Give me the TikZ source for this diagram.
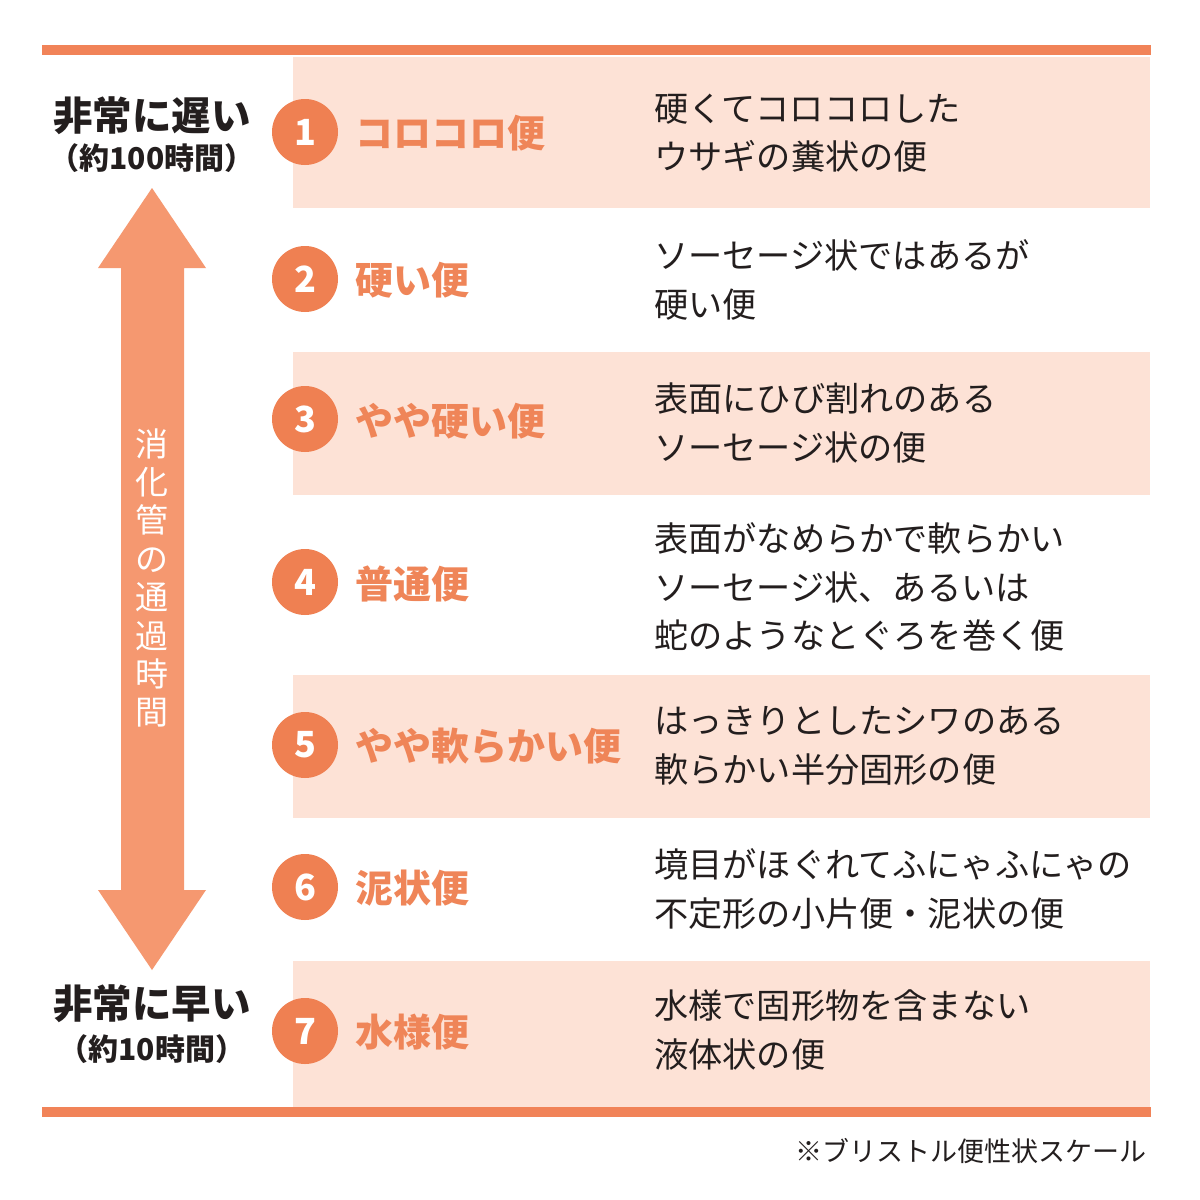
\documentclass[tikz,border=0pt]{standalone}
\usepackage{fontspec}
\setmainfont{Noto Sans CJK JP}
\definecolor{lineor}{RGB}{241,131,88}
\definecolor{bandor}{RGB}{253,226,214}
\definecolor{arrowor}{RGB}{245,152,112}
\definecolor{circor}{RGB}{239,128,82}
\definecolor{labor}{RGB}{239,133,88}
\definecolor{txt}{RGB}{35,30,30}
\tikzset{
  band/.style={fill=bandor},
  rule/.style={fill=lineor},
  numcirc/.style={circle,fill=circor,minimum size=66pt,inner sep=0pt,text=white,font=\fontsize{36}{40}\selectfont\bfseries},
  typelab/.style={anchor=west,inner sep=0pt,text=labor,font=\fontsize{38}{44}\selectfont\bfseries},
  desc/.style={anchor=west,inner sep=0pt,align=left,text=txt,font=\fontsize{34.2}{48.5}\selectfont},
  speed/.style={inner sep=0pt,text=txt,font=\fontsize{39.5}{44}\selectfont\bfseries},
  hours/.style={inner sep=0pt,text=txt,font=\fontsize{30}{34}\selectfont\bfseries},
}
\begin{document}
\begin{tikzpicture}[x=1pt,y=-1pt]
\useasboundingbox (0,0) rectangle (1200,1200);
\fill[white] (0,0) rectangle (1200,1200);
% shaded bands
\fill[band] (293,57) rectangle (1150,208);
\fill[band] (293,352) rectangle (1150,495);
\fill[band] (293,675) rectangle (1150,818);
\fill[band] (293,961) rectangle (1150,1107);
% rules
\fill[rule] (42,45) rectangle (1151,55);
\fill[rule] (42,1107) rectangle (1151,1117);
% double arrow
\fill[arrowor] (152,188) -- (206,268) -- (184,268) -- (184,890) -- (206,890)
  -- (152,970) -- (98,890) -- (121,890) -- (121,268) -- (98,268) -- cycle;
\node[inner sep=0pt,align=center,text=white,font=\fontsize{33}{38.4}\selectfont] (vt) at (152,578)
  {消\\化\\管\\の\\通\\過\\時\\間};
% left labels
\node[speed] (slow) at (152,116) {非常に遅い};
\node[hours] (slowh) at (152,158) {（約100時間）};
\node[speed] (fast) at (152,1004) {非常に早い};
\node[hours] (fasth) at (152,1049) {（約10時間）};
% rows
\node[numcirc] (c1) at (305,132) {1};
\node[typelab] (l1) at (355,133) {コロコロ便};
\node[desc] (d1) at (654,133) {硬くてコロコロした\\ウサギの糞状の便};
\node[numcirc] (c2) at (305,279) {2};
\node[typelab] (l2) at (355,280) {硬い便};
\node[desc] (d2) at (654,280) {ソーセージ状ではあるが\\硬い便};
\node[numcirc] (c3) at (305,419) {3};
\node[typelab] (l3) at (355,421) {やや硬い便};
\node[desc] (d3) at (654,423) {表面にひび割れのある\\ソーセージ状の便};
\node[numcirc] (c4) at (305,582) {4};
\node[typelab] (l4) at (355,584) {普通便};
\node[desc] (d4) at (654,587) {表面がなめらかで軟らかい\\ソーセージ状、あるいは\\蛇のようなとぐろを巻く便};
\node[numcirc] (c5) at (305,745) {5};
\node[typelab] (l5) at (355,746) {やや軟らかい便};
\node[desc] (d5) at (654,746) {はっきりとしたシワのある\\軟らかい半分固形の便};
\node[numcirc] (c6) at (305,887) {6};
\node[typelab] (l6) at (355,888) {泥状便};
\node[desc] (d6) at (654,889) {境目がほぐれてふにゃふにゃの\\不定形の小片便・泥状の便};
\node[numcirc] (c7) at (305,1031) {7};
\node[typelab] (l7) at (355,1032) {水様便};
\node[desc] (d7) at (654,1030) {水様で固形物を含まない\\液体状の便};
% note
\node[anchor=east,inner sep=0pt,text=txt,font=\fontsize{27}{30}\selectfont] (note) at (1147,1151) {※ブリストル便性状スケール};
\end{tikzpicture}
\end{document}
